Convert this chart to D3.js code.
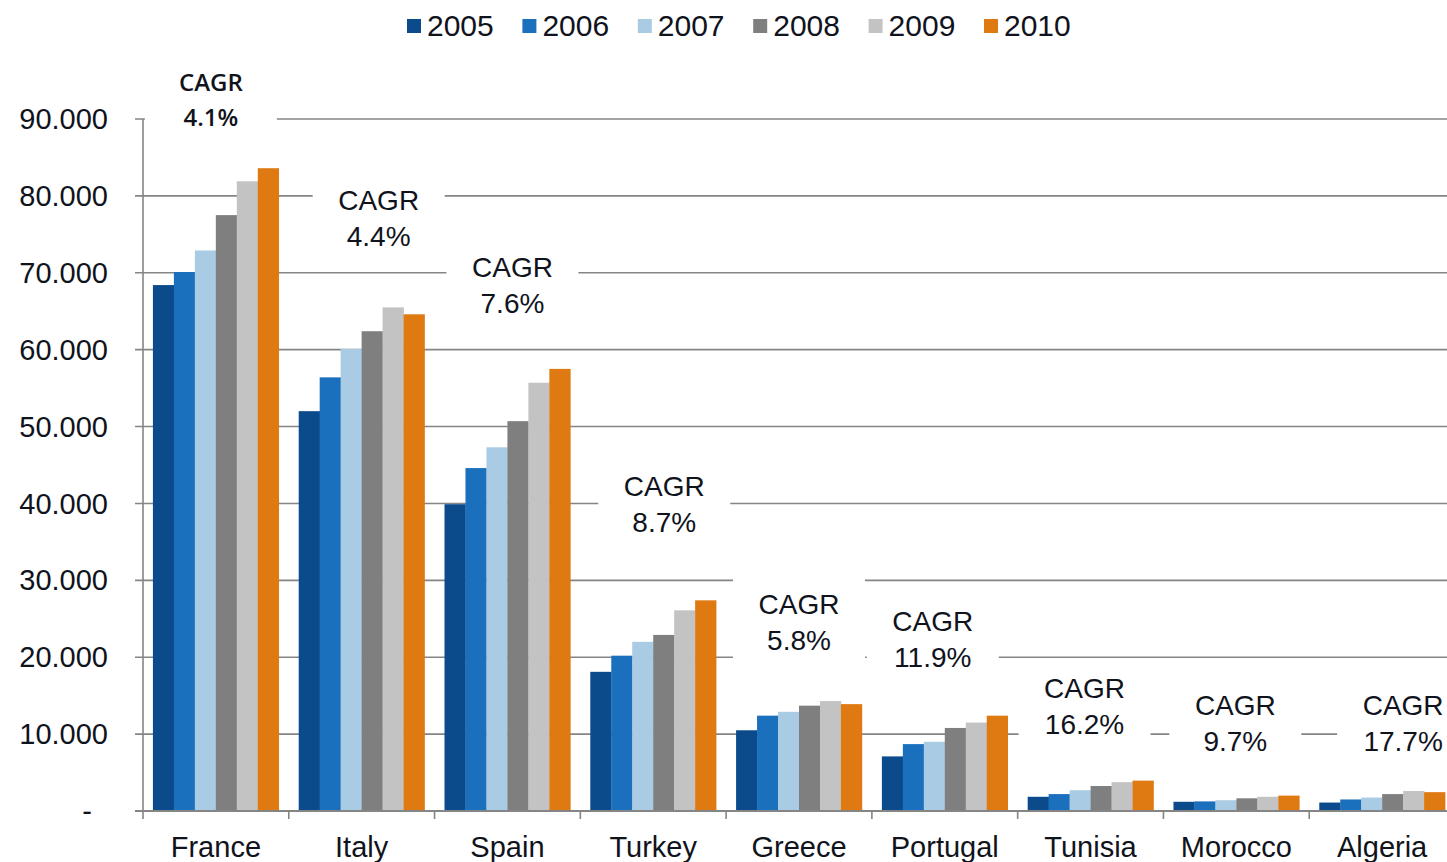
<!DOCTYPE html>
<html>
<head>
<meta charset="utf-8">
<script src="https://cdn.jsdelivr.net/npm/d3@7"></script>
<style>
  body { margin: 0; background: #fff; }
  text { font-family: Arial, "Liberation Sans", sans-serif; fill: #10131c; }
</style>
</head>
<body>
<div id="chart"></div>
<script>
// categories and series
var countries = ["France", "Italy", "Spain", "Turkey", "Greece", "Portugal", "Tunisia", "Morocco", "Algeria"];
var years = ["2005", "2006", "2007", "2008", "2009", "2010"];
var v2005 = [68400, 52000, 39900, 18100, 10500, 7100, 1850, 1200, 1100];
var v2006 = [70100, 56400, 44600, 20200, 12400, 8700, 2200, 1250, 1500];
var v2007 = [72900, 60100, 47300, 22000, 12900, 9000, 2700, 1400, 1750];
var v2008 = [77500, 62400, 50700, 22900, 13700, 10800, 3250, 1650, 2200];
var v2009 = [81900, 65500, 55700, 26100, 14300, 11500, 3750, 1850, 2600];
var v2010 = [83600, 64600, 57500, 27400, 13900, 12400, 3950, 2000, 2450];
var cagr = ["4.1%", "4.4%", "7.6%", "8.7%", "5.8%", "11.9%", "16.2%", "9.7%", "17.7%"];
var yTicks = [0, 10000, 20000, 30000, 40000, 50000, 60000, 70000, 80000, 90000];

// label placement (value at label centre, horizontal nudge in px)
var labelAt = [92500, 77300, 68500, 40000, 24700, 22500, 13800, 11600, 11600];
var labelDx = [-5, 17, 5, 11, 0, -12, -6, -1, 21];

var colors = ["#0b4a8b", "#1a70bd", "#a9cbe3", "#7f7f7f", "#c3c3c3", "#df7a12"];
var series = [v2005, v2006, v2007, v2008, v2009, v2010];

var width = 1447, height = 862;
var margin = { left: 143, right: -8, top: 119, bottom: 51 };

var svg = d3.select("#chart").append("svg")
    .attr("width", width)
    .attr("height", height);

var x = d3.scaleBand()
    .domain(countries)
    .range([margin.left, width - margin.right])
    .paddingInner(0.137)
    .paddingOuter(0.068);

var xOuter = d3.scaleBand()
    .domain(countries)
    .range([margin.left, width - margin.right]);

var xs = d3.scaleBand()
    .domain(years)
    .range([0, x.bandwidth()]);

var y = d3.scaleLinear()
    .domain([0, 90000])
    .range([height - margin.bottom, margin.top]);

// gridlines
svg.append("g")
    .selectAll("line")
    .data(yTicks.slice(1))
    .enter().append("line")
    .attr("x1", margin.left - 8)
    .attr("x2", width)
    .attr("y1", function(d) { return y(d); })
    .attr("y2", function(d) { return y(d); })
    .attr("stroke", "#858585")
    .attr("stroke-width", 1.6);

// y labels
svg.append("g")
    .selectAll("text")
    .data(yTicks)
    .enter().append("text")
    .attr("x", function(d) { return d === 0 ? 92 : 108; })
    .attr("y", function(d) { return y(d); })
    .attr("dy", "0.35em")
    .attr("text-anchor", "end")
    .style("font-size", "29px")
    .text(function(d) { return d === 0 ? "-" : d3.format(",")(d).replace(/,/g, "."); });

// CAGR label boxes (white, hide gridlines)
var boxW = 132, boxH = 86;
var labels = svg.append("g")
    .selectAll("g")
    .data(countries)
    .enter().append("g")
    .attr("transform", function(d, i) {
        return "translate(" + (xOuter(d) + xOuter.bandwidth() / 2 + labelDx[i]) + "," + y(labelAt[i]) + ")";
    });

labels.append("rect")
    .attr("x", -boxW / 2)
    .attr("y", -boxH / 2)
    .attr("width", boxW)
    .attr("height", boxH)
    .attr("fill", "#fff");

labels.append("text")
    .attr("text-anchor", "middle")
    .attr("y", function(d, i) { return i === 0 ? -9 : -7; })
    .style("font-size", function(d, i) { return i === 0 ? "24px" : "28px"; })
    .style("font-family", function(d, i) { return i === 0 ? "'Open Sans', sans-serif" : null; })
    .style("font-weight", function(d, i) { return i === 0 ? 600 : 400; })
    .text("CAGR");

labels.append("text")
    .attr("text-anchor", "middle")
    .attr("y", function(d, i) { return i === 0 ? 26 : 29; })
    .style("font-size", function(d, i) { return i === 0 ? "24px" : "28px"; })
    .style("font-family", function(d, i) { return i === 0 ? "'Open Sans', sans-serif" : null; })
    .style("font-weight", function(d, i) { return i === 0 ? 600 : 400; })
    .text(function(d, i) { return cagr[i]; });

// bars
var groups = svg.append("g")
    .selectAll("g")
    .data(countries)
    .enter().append("g")
    .attr("transform", function(d) { return "translate(" + x(d) + ",0)"; });

groups.selectAll("rect")
    .data(function(d, i) {
        return years.map(function(yr, j) { return { year: yr, value: series[j][i], k: j }; });
    })
    .enter().append("rect")
    .attr("x", function(d) { return xs(d.year); })
    .attr("y", function(d) { return y(d.value); })
    .attr("width", xs.bandwidth() + 0.3)
    .attr("height", function(d) { return y(0) - y(d.value); })
    .attr("fill", function(d) { return colors[d.k]; });

// y axis line
svg.append("line")
    .attr("x1", margin.left).attr("x2", margin.left)
    .attr("y1", y(90000)).attr("y2", y(0))
    .attr("stroke", "#858585").attr("stroke-width", 1.6);

// x axis
svg.append("line")
    .attr("x1", margin.left - 8).attr("x2", width)
    .attr("y1", y(0)).attr("y2", y(0))
    .attr("stroke", "#858585").attr("stroke-width", 2);

svg.append("g")
    .selectAll("line")
    .data(countries)
    .enter().append("line")
    .attr("x1", function(d) { return xOuter(d); })
    .attr("x2", function(d) { return xOuter(d); })
    .attr("y1", y(0))
    .attr("y2", y(0) + 8)
    .attr("stroke", "#858585").attr("stroke-width", 1.6);

svg.append("g")
    .selectAll("text")
    .data(countries)
    .enter().append("text")
    .attr("x", function(d) { return xOuter(d) + xOuter.bandwidth() / 2; })
    .attr("y", 857)
    .attr("text-anchor", "middle")
    .style("font-size", "29px")
    .text(function(d) { return d; });

// legend
var legend = svg.append("g")
    .selectAll("g")
    .data(years)
    .enter().append("g")
    .attr("transform", function(d, i) { return "translate(" + (407 + i * 115.4) + ",0)"; });

legend.append("rect")
    .attr("x", 0).attr("y", 19)
    .attr("width", 14).attr("height", 14)
    .attr("fill", function(d, i) { return colors[i]; });

legend.append("text")
    .attr("x", 20).attr("y", 36)
    .style("font-size", "30px")
    .text(function(d) { return d; });
</script>
</body>
</html>
